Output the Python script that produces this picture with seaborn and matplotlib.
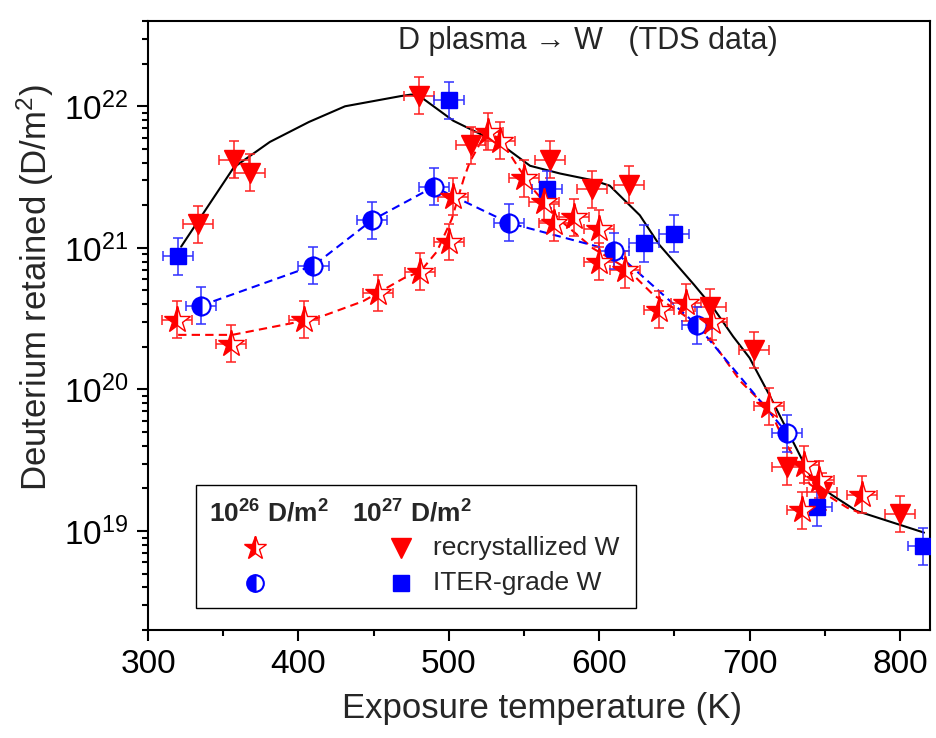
#!/usr/bin/env python3
# D retention in W vs exposure temperature (TDS data) -- log plot with error bars

import numpy as np
import seaborn as sns
import matplotlib.pyplot as plt
from matplotlib.patches import Rectangle
from matplotlib.ticker import MultipleLocator, LogLocator, NullFormatter

# --- data ---
# 1e26 D/m2, recrystallized W (half-filled stars)
star_T = [319, 355, 404, 453, 481, 500, 503, 526, 534, 550, 563, 570,
          583, 600, 600, 617, 640, 658, 675, 713, 736, 746, 735, 775]
star_D = [3.1e20, 2.1e20, 3.1e20, 4.8e20, 6.8e20, 1.1e21, 2.3e21, 6.6e21,
          5.7e21, 3.1e21, 2.1e21, 1.5e21, 1.65e21, 1.37e21, 8.0e20, 7.0e20,
          3.65e20, 4.1e20, 3.0e20, 7.6e19, 2.95e19, 2.3e19, 1.4e19, 1.8e19]

# 1e26 D/m2, ITER-grade W (half-filled circles)
circ_T = [335, 410, 449, 490, 540, 610, 665, 725]
circ_D = [3.9e20, 7.5e20, 1.57e21, 2.7e21, 1.5e21, 9.5e20, 2.85e20, 4.9e19]

# 1e27 D/m2, recrystallized W (down triangles)
tri_T = [333, 357, 368, 480, 515, 567, 595, 620, 674, 703, 725, 748, 800]
tri_D = [1.47e21, 4.2e21, 3.4e21, 1.19e22, 5.3e21, 4.2e21, 2.6e21, 2.8e21,
         3.8e20, 1.9e20, 2.85e19, 1.9e19, 1.32e19]

# 1e27 D/m2, ITER-grade W (squares)
sq_T = [320, 500, 565, 630, 650, 745, 815]
sq_D = [8.7e20, 1.1e22, 2.6e21, 1.08e21, 1.26e21, 1.47e19, 7.8e18]

# guide-to-the-eye curves
fit27_T = [322, 357, 381, 407, 431, 468, 475, 483, 503, 534, 554, 574, 596,
           607, 627, 640, 663, 676, 689, 700, 713, 741, 754, 771, 816]
fit27_D = [1.02e21, 3.7e21, 5.6e21, 7.75e21, 1.0e22, 1.18e22, 1.21e22,
           1.13e22, 7.9e21, 5.45e21, 3.8e21, 3.35e21, 3.0e21, 2.75e21,
           1.7e21, 1.05e21, 5.5e20, 3.75e20, 2.37e20, 1.67e20, 9.2e19,
           2.38e19, 1.82e19, 1.39e19, 9.75e18]

fit26r_T = [320, 356, 390, 412, 443, 470, 481, 492, 502, 510, 514, 525, 534,
            547, 556, 574, 596, 618, 636, 656, 672, 694, 714, 722, 740, 765, 773]
fit26r_D = [2.43e20, 2.43e20, 2.86e20, 3.18e20, 4.2e20, 6.1e20, 6.8e20,
            9.4e20, 1.6e21, 3.1e21, 4.05e21, 6.6e21, 5.9e21, 3.6e21, 2.6e21,
            1.57e21, 9.9e20, 7.2e20, 4.66e20, 3.37e20, 2.43e20, 1.14e20,
            7.0e19, 4.55e19, 2.14e19, 1.46e19, 1.35e19]

x_err = 10          # K
y_err_factor = 1.35  # multiplicative uncertainty

# --- style ---
sns.set_theme(style="ticks")
plt.rcParams['font.family'] = ['Liberation Sans', 'DejaVu Sans']
plt.rcParams.update({
    'mathtext.fontset': 'custom',
    'mathtext.rm': 'Liberation Sans',
    'mathtext.it': 'Liberation Sans:italic',
    'mathtext.bf': 'Liberation Sans:bold',
})

RED = '#ff0000'
BLUE = '#0000ff'

fig = plt.figure(figsize=(9.37, 7.38), dpi=100)
ax = fig.add_axes([0.158, 0.1463, 0.8346, 0.8252])


def yerr(vals, f=y_err_factor):
    v = np.asarray(vals)
    return [v - v / f, v * f - v]


# guide lines
sns.lineplot(x=fit27_T, y=fit27_D, sort=False, estimator=None, ax=ax,
             color='black', lw=1.5, zorder=2)
l1 = sns.lineplot(x=fit26r_T, y=fit26r_D, sort=False, estimator=None, ax=ax,
                  color=RED, lw=1.5, zorder=2).lines[-1]
l1.set_dashes((4, 2.5))
l2 = sns.lineplot(x=circ_T, y=circ_D, sort=False, estimator=None, ax=ax,
                  color=BLUE, lw=1.5, zorder=2).lines[-1]
l2.set_dashes((4, 2.5))

# error bars
for T, D, c in [(star_T, star_D, '#ff2020'), (tri_T, tri_D, '#ff2020'),
                (circ_T, circ_D, '#3030ff'), (sq_T, sq_D, '#3030ff')]:
    ax.errorbar(T, D, xerr=x_err, yerr=yerr(D), fmt='none', ecolor=c,
                elinewidth=1.1, capsize=3.5, capthick=1.1, zorder=3)

# markers
ax.plot(tri_T, tri_D, ls='none', marker='v', ms=14, color=RED, mec=RED, zorder=4)
ax.plot(sq_T, sq_D, ls='none', marker='s', ms=12, color=BLUE, mec=BLUE, zorder=4)
ax.plot(circ_T, circ_D, ls='none', marker='o', ms=13, fillstyle='left',
        mfc=BLUE, mfcalt='white', mec=BLUE, mew=1.5, zorder=4)
ax.plot(star_T, star_D, ls='none', marker='*', ms=20, fillstyle='left',
        mfc=RED, mfcalt='white', mec=RED, mew=1.0, zorder=5)

# axes
ax.set_yscale('log')
ax.set_xlim(300, 820)
ax.set_ylim(2e18, 4e22)
ax.xaxis.set_major_locator(MultipleLocator(100))
ax.xaxis.set_minor_locator(MultipleLocator(50))
ax.yaxis.set_major_locator(LogLocator(base=10, numticks=10))
ax.yaxis.set_minor_locator(LogLocator(base=10, subs=np.arange(2, 10), numticks=20))
ax.yaxis.set_minor_formatter(NullFormatter())
ax.tick_params(which='both', direction='out', width=1.5, labelsize=24,
               top=False, right=False, colors='black')
ax.tick_params(which='major', length=8, pad=6)
ax.tick_params(which='minor', length=4)
for s in ax.spines.values():
    s.set_linewidth(1.5)
    s.set_color('black')

ax.set_xlabel('Exposure temperature (K)', fontsize=25)
ax.set_ylabel('Deuterium retained (D/m$^2$)', fontsize=25)
ax.xaxis.set_label_coords(0.504, -0.102)
ax.yaxis.set_label_coords(-0.118, 0.563)

ax.text(0.562, 0.968, 'D plasma \u2192 W   (TDS data)', transform=ax.transAxes,
        ha='center', va='center', fontsize=22)

# --- hand-built legend ---
tr = ax.transAxes
ax.add_patch(Rectangle((0.0614, 0.0366), 0.5626, 0.2014, transform=tr,
                       fill=True, facecolor='white', edgecolor='black', lw=1.0, zorder=6))
ax.text(0.078, 0.192, r'$\mathbf{10^{26}\ D/m^{2}}$', transform=tr, fontsize=19,
        ha='left', va='center', zorder=7)
ax.text(0.2605, 0.192, r'$\mathbf{10^{27}\ D/m^{2}}$', transform=tr, fontsize=19,
        ha='left', va='center', zorder=7)
ax.plot([0.1368], [0.134], transform=tr, marker='*', ms=17, fillstyle='left',
        mfc=RED, mfcalt='white', mec=RED, mew=1.0, ls='none', zorder=7)
ax.plot([0.1368], [0.0777], transform=tr, marker='o', ms=12, fillstyle='left',
        mfc=BLUE, mfcalt='white', mec=BLUE, mew=1.5, ls='none', zorder=7)
ax.plot([0.323], [0.134], transform=tr, marker='v', ms=14, color=RED, ls='none', zorder=7)
ax.plot([0.323], [0.0777], transform=tr, marker='s', ms=12, color=BLUE, ls='none', zorder=7)
ax.text(0.364, 0.134, 'recrystallized W', transform=tr, fontsize=19,
        ha='left', va='center', zorder=7)
ax.text(0.364, 0.0777, 'ITER-grade W', transform=tr, fontsize=19,
        ha='left', va='center', zorder=7)

fig.savefig('out.png', dpi=100)
